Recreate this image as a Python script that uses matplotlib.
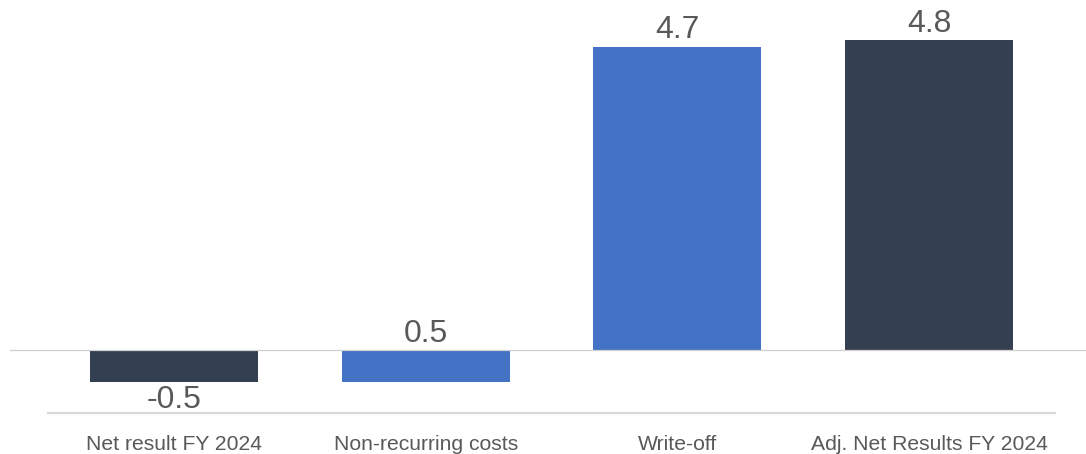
import numpy as np
import matplotlib.pyplot as plt

plt.rcParams['font.family'] = ['Liberation Sans', 'DejaVu Sans']

# bridge from reported to adjusted net result
categories = ["Net result FY 2024", "Non-recurring costs", "Write-off", "Adj. Net Results FY 2024"]
values = [-0.5, 0.5, 4.7, 4.8]
is_total = [True, False, False, True]

dark = "#353f52"
blue = "#4472c4"
grey_txt = "#595959"

# floating bars start where the running sum left off, totals start at zero
running = np.cumsum([0] + values[:-1])
bottoms = [0 if t else r for t, r in zip(is_total, running)]
colors = [dark if t else blue for t in is_total]

fig = plt.figure(figsize=(10.86, 4.54), dpi=100)
ax = fig.add_axes([0, 0, 1, 1])
x = np.arange(len(categories))

ax.bar(x, values, bottom=bottoms, width=0.667, color=colors, zorder=2)

# zero line on top of bars, category axis further down
ax.axhline(0, xmin=10 / 1086, xmax=1.0, color="#d0d0d0", lw=0.9, zorder=3)
ax.plot([-0.5, 3.5], [-0.97, -0.97], color="#d9d9d9", lw=1.6, zorder=1)

for xi, v, b in zip(x, values, bottoms):
    end = b + v
    if v < 0:
        ax.annotate(f"{v:.1f}", (xi, end), xytext=(0, -2), textcoords="offset points",
                    ha="center", va="top", fontsize=23, color=grey_txt)
    else:
        ax.annotate(f"{v:.1f}", (xi, end), xytext=(0, 1), textcoords="offset points",
                    ha="center", va="bottom", fontsize=23, color=grey_txt)

for xi, c in zip(x, categories):
    ax.text(xi, -1.46, c, ha="center", va="center", fontsize=15.2, color=grey_txt)

ax.set_xlim(-0.691, 3.623)
ax.set_ylim(-1.612, 5.426)
ax.axis("off")

fig.savefig("out.png", dpi=100)
